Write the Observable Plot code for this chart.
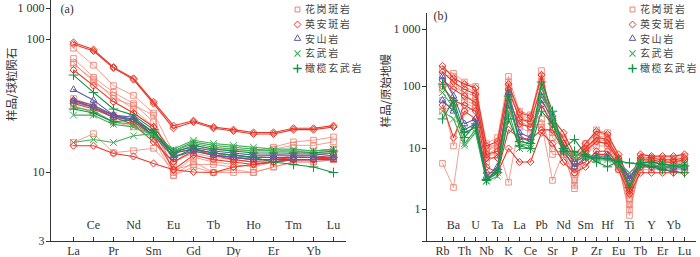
<!DOCTYPE html>
<html>
<head>
<meta charset="utf-8">
<script src="https://cdn.jsdelivr.net/npm/d3@7"></script>
<script src="https://cdn.jsdelivr.net/npm/@observablehq/plot@0.6"></script>
<style>
  html, body { margin: 0; padding: 0; background: #fff; }
  #wrap { position: relative; width: 700px; height: 257px; display: flex; }
  .panel { position: relative; width: 350px; height: 257px; }
  .legend { position: absolute; z-index: 5; font-family: "Noto Sans CJK SC", sans-serif; font-size: 10px; color: #444; letter-spacing: 1.6px; }
  .legend div { height: 14.8px; line-height: 14.8px; display: flex; align-items: center; white-space: nowrap; }
  .legend svg { margin-right: 3px; overflow: visible; }
</style>
</head>
<body>
<div id="wrap">
  <div class="panel" id="pa"><div class="legend" id="la" style="left:293px; top:2px;"></div></div>
  <div class="panel" id="pb"><div class="legend" id="lb" style="left:278px; top:2px;"></div></div>
</div>
<script>
// ---------- categories ----------
const rockTypes = ["花岗斑岩", "英安斑岩", "安山岩", "玄武岩", "橄榄玄武岩"];
const reeElements = ["La","Ce","Pr","Nd","Sm","Eu","Gd","Tb","Dy","Ho","Er","Tm","Yb","Lu"];
const traceElements = ["Rb","Ba","Th","U","Nb","Ta","K","La","Ce","Pb","Sr","Nd","P","Sm","Zr","Hf","Eu","Ti","Tb","Y","Er","Yb","Lu"];
const reeTicks = [3, 10, 100, 1000];
const traceTicks = [0.3, 1, 10, 100, 1000];
const reeYTitle = "样品/球粒陨石";
const traceYTitle = "样品/原始地幔";
const panelLabels = ["(a)", "(b)"];

// ---------- (a) chondrite-normalised REE ----------
const reeGranite = [
  [86, 64, 45, 38, 28, 14, 15, 14, 13, 13, 13.5, 14, 14, 15],
  [72, 52, 40, 33, 24, 12, 14, 13, 12.5, 12, 12.5, 13.5, 13.5, 14],
  [67, 48, 38, 30, 22, 10, 13, 12, 11.5, 11, 12, 12.5, 12.5, 13],
  [65, 50, 36, 32, 27, 9.5, 12, 10, 10, 10, 11, 12, 12, 12.5],
  [36, 32, 27, 25, 20, 13, 15, 15, 15, 14.5, 15.5, 17, 17.5, 18.5],
  [33, 31, 26, 24, 20, 11.5, 16, 15, 14.5, 14.5, 15, 16, 16, 17],
  [16.8, 19.6, 14.1, 14.6, 15.2, 10.5, 11.5, 11.5, 11, 11.5, 12, 13, 13.5, 14],
  [32, 28, 24, 22, 18, 9.5, 11, 10, 10.5, 10, 11, 12, 12, 12.5]
];
const reeDacite = [
  [95, 84, 62, 51, 34, 22.5, 24.5, 22, 21, 20, 20, 21.5, 21.5, 22.5],
  [92, 82, 61, 50, 33, 21.5, 24, 21.5, 20.5, 19.5, 19.5, 21, 21, 22],
  [59, 45, 34, 28, 22, 14, 15, 13.5, 12.5, 12, 12, 12.5, 12.5, 13],
  [15.9, 15.9, 13.9, 13.2, 11.7, 10.5, 10.1, 10, 11, 11.5, 12, 12.5, 12.5, 13],
  [33, 30, 26, 23, 17, 12, 14.5, 13.5, 13, 12.5, 12.5, 13, 13, 13.5],
  [35, 31, 27, 24, 19, 10.5, 13.5, 12.5, 12, 11.5, 12, 12.5, 12.5, 13]
];
const reeAndesite = [
  [42, 35, 27, 25, 19, 13, 14.5, 13.5, 13, 12.5, 12.5, 12.5, 12.5, 12.5],
  [34, 31, 26, 25, 19, 14, 15, 14, 13.5, 13, 13, 13, 13, 13],
  [35, 32, 27, 26, 20, 14.5, 15.5, 14.5, 14, 13.5, 13.5, 13.5, 13.5, 14]
];
const reeBasalt = [
  [31, 29, 24, 23, 19, 14.5, 17, 16, 15.5, 15, 14.5, 14.5, 14.5, 15],
  [27, 27, 23, 22, 19, 15, 17.5, 16.5, 16, 15.5, 15, 15, 14.5, 15],
  [16.8, 17.7, 16.8, 18.9, 19.6, 14.5, 16.5, 15.5, 15, 14.5, 14.5, 14.5, 14, 14]
];
const reeOlivineBasalt = [
  [54, 40, 30, 27, 21, 13, 15, 14, 13.5, 13, 12, 11.5, 11, 10],
  [30, 28, 24, 25, 20, 14, 16, 15, 14.5, 14, 14, 14, 14, 14.5]
];

// ---------- (b) primitive-mantle-normalised trace elements ----------
const traceGranite = [
  [200, 170, 120, 100, 12, 15, 150, 40, 35, 190, 25, 15, 6, 12, 20, 18, 7, 2.5, 7.5, 7, 7, 7, 7.5],
  [160, 150, 100, 80, 10, 12, 120, 35, 30, 150, 20, 12, 5, 11, 18, 16, 6, 1.5, 6.5, 6.5, 6, 6, 6.5],
  [120, 100, 80, 70, 8, 10, 100, 30, 25, 120, 15, 10, 3, 9, 15, 14, 5.5, 0.8, 6, 6, 5.5, 5.5, 6],
  [5.7, 2.3, 40, 45, 9, 11, 2.8, 25, 22, 25, 3, 9, 2.2, 9, 14, 13, 5, 1.2, 5.5, 5.5, 5, 5.5, 5.5],
  [60, 11, 60, 50, 7, 9, 30, 28, 22, 22, 10, 8, 2.5, 8, 13, 12, 5, 1.0, 5, 5, 4.8, 5, 5],
  [90, 130, 70, 60, 9, 12, 80, 32, 28, 60, 18, 11, 4, 10, 16, 15, 6, 2, 6, 6, 5.8, 6, 6],
  [40, 50, 55, 45, 6, 8, 40, 22, 18, 30, 8, 8, 4, 8, 11, 11, 4.5, 1.5, 4.5, 4.5, 4.5, 4.5, 4.5]
];
const traceDacite = [
  [230, 140, 110, 95, 11, 13, 110, 38, 33, 160, 30, 18, 8, 12, 19, 17, 8, 3, 8, 7.5, 7.5, 7.5, 8],
  [180, 120, 90, 75, 8, 9, 90, 30, 27, 100, 28, 14, 7, 10, 15, 14, 7, 2.5, 7, 7, 6.5, 6.5, 7],
  [100, 60, 50, 40, 5, 4, 20, 15, 14, 20, 20, 9, 5, 6, 9, 9, 5.5, 2, 5, 5, 5, 5, 5],
  [50, 15, 40, 30, 4, 4, 10, 6, 6, 18, 12, 6, 4, 5, 8, 8, 4.5, 1.8, 4, 4, 4, 4, 4],
  [130, 90, 70, 55, 7, 7, 60, 25, 22, 50, 25, 12, 6, 9, 13, 12, 6.5, 2.2, 6.5, 6.5, 6, 6, 6.5]
];
const traceAndesite = [
  [150, 70, 25, 30, 3.5, 5, 80, 18, 15, 80, 35, 10, 6, 7.5, 7.5, 7.5, 6, 3.5, 5.5, 5.5, 5, 5, 5],
  [60, 40, 20, 25, 3.2, 4.5, 50, 15, 13, 60, 30, 9, 5, 7, 7, 7, 5.8, 3.2, 5.2, 5.2, 4.8, 4.8, 4.8]
];
const traceBasalt = [
  [80, 45, 12, 20, 3.0, 4, 60, 12, 11, 100, 30, 9, 8, 7.5, 7, 7, 6, 4, 6, 6, 5.5, 5.5, 5.5],
  [40, 30, 11, 18, 2.9, 3.5, 40, 10, 10, 70, 35, 8.5, 7, 7, 6.5, 6.5, 5.5, 2.5, 5.5, 5.5, 5, 5, 5]
];
const traceOlivineBasalt = [
  [110, 50, 15, 25, 3.0, 4.5, 70, 13, 12, 120, 40, 10, 14, 8, 6, 5, 6.2, 5.8, 5.5, 5, 4.5, 4.2, 4],
  [30, 60, 18, 22, 3.1, 4, 30, 11, 10, 40, 25, 9, 9, 7.5, 7, 6.8, 6, 2.3, 5.8, 6, 5.5, 5.2, 5.2]
];

// ---------- styles ----------
const typeColors = ["#f27f70", "#e6372a", "#5a5aa6", "#45ad5c", "#139342"];
const typeSymbols = ["square2", "diamond2", "triangle2", "times", "plus"];
const d3Symbols = [d3.symbolSquare2, d3.symbolDiamond2, d3.symbolTriangle2, d3.symbolTimes, d3.symbolPlus];

function tidy(groups, elements) {
  const rows = [];
  groups.forEach((samples, t) => samples.forEach((vals, s) => vals.forEach((v, i) =>
    rows.push({type: rockTypes[t], t, id: t + "-" + s, el: elements[i], v}))));
  return rows;
}
const fmt = d => d === 1000 ? "1 000" : String(d);
const serif = "'Liberation Serif', 'DejaVu Serif', serif";
const cjk = "'Noto Sans CJK SC', sans-serif";

function makePanel({groups, elements, ticks, yDomain, yRange, marginLeft, marginTop, insetLeft, insetRight, yTitle, titleDx, label, labelDx, labelDy}) {
  const data = tidy(groups, elements);
  const even = elements.filter((d, i) => i % 2 === 0);
  const odd = elements.filter((d, i) => i % 2 === 1);
  const seriesMarks = [];
  rockTypes.forEach((name, t) => {
    const sub = data.filter(d => d.t === t);
    seriesMarks.push(Plot.line(sub, {x: "el", y: "v", z: "id", stroke: typeColors[t], strokeWidth: t === 0 ? 0.9 : 1.1, strokeOpacity: t === 0 ? 0.85 : 1}));
    seriesMarks.push(Plot.dot(sub, {x: "el", y: "v", symbol: typeSymbols[t], stroke: typeColors[t], r: t === 0 ? 3.6 : 3.2, strokeWidth: 1, strokeOpacity: t === 0 ? 0.85 : 1}));
  });
  return Plot.plot({
    width: 350, height: 257,
    marginLeft, marginRight: 5, marginTop, marginBottom: 16,
    style: {fontFamily: serif, fontSize: "12px", color: "#333", background: "transparent"},
    x: {type: "point", domain: elements, padding: 0, insetLeft, insetRight},
    y: {type: "log", domain: yDomain, range: yRange},
    marks: [
      Plot.frame({anchor: "left", stroke: "#333"}),
      Plot.frame({anchor: "bottom", stroke: "#333"}),
      Plot.axisY({ticks, tickFormat: fmt, tickSize: 4, tickPadding: 2, label: null, fontSize: 12}),
      Plot.axisX({anchor: "bottom", tickSize: -4, tickFormat: () => "", label: null}),
      Plot.axisX(even, {anchor: "bottom", tickSize: 0, tickPadding: 5, label: null, fontSize: 12}),
      Plot.text(odd, {x: d => d, frameAnchor: "bottom", dy: -13, fontSize: 12, fill: "#333"}),
      ...seriesMarks,
      Plot.text([yTitle], {frameAnchor: "left", rotate: -90, dx: titleDx, fontFamily: cjk, fontSize: 11.5, fill: "#333"}),
      Plot.text([label], {frameAnchor: "top-left", dx: labelDx, dy: labelDy, textAnchor: "start", lineAnchor: "middle", fontSize: 12, fill: "#333"})
    ]
  });
}

const pa = makePanel({
  groups: [reeGranite, reeDacite, reeAndesite, reeBasalt, reeOlivineBasalt],
  elements: reeElements, ticks: reeTicks,
  yDomain: [3, 10, 100, 1000], yRange: [241, 172, 39, 8],
  marginLeft: 50, marginTop: 0, insetLeft: 18, insetRight: 7,
  yTitle: reeYTitle, titleDx: -38, label: panelLabels[0], labelDx: 10, labelDy: 9
});
const pb = makePanel({
  groups: [traceGranite, traceDacite, traceAndesite, traceBasalt, traceOlivineBasalt],
  elements: traceElements, ticks: traceTicks,
  yDomain: [0.3, 1, 10, 100, 1000], yRange: [241, 209, 148, 86, 29],
  marginLeft: 76, marginTop: 13, insetLeft: 11, insetRight: 6,
  yTitle: traceYTitle, titleDx: -40, label: panelLabels[1], labelDx: 7, labelDy: 3
});
document.getElementById("pa").prepend(pa);
document.getElementById("pb").prepend(pb);

function legend(el) {
  rockTypes.forEach((name, t) => {
    const row = document.createElement("div");
    const ns = "http://www.w3.org/2000/svg";
    const s = document.createElementNS(ns, "svg");
    s.setAttribute("width", 9); s.setAttribute("height", 9);
    const p = document.createElementNS(ns, "path");
    p.setAttribute("d", d3.symbol(d3Symbols[t], t >= 3 ? 26 : 30)());
    p.setAttribute("transform", "translate(4.5,4.5)");
    p.setAttribute("fill", "none");
    p.setAttribute("stroke", typeColors[t]);
    p.setAttribute("stroke-width", t === 4 ? 1.4 : t === 3 ? 1.2 : 1);
    s.appendChild(p);
    row.appendChild(s);
    const span = document.createElement("span");
    span.textContent = name;
    row.appendChild(span);
    el.appendChild(row);
  });
}
legend(document.getElementById("la"));
legend(document.getElementById("lb"));
</script>
</body>
</html>
